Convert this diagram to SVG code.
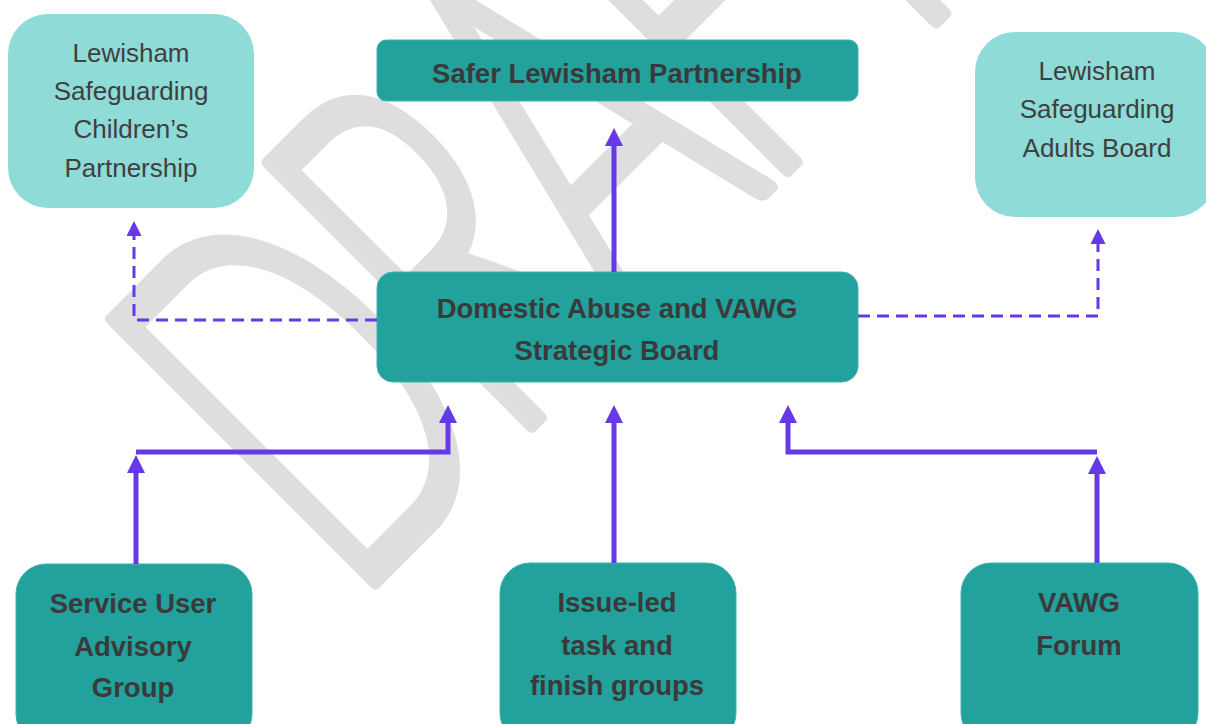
<svg xmlns="http://www.w3.org/2000/svg" width="1206" height="724" viewBox="0 0 1206 724">
<defs>
<style>
.bg{fill:#ffffff}
.wm{font-family:Lato,"Liberation Sans",Arial,sans-serif;font-size:525px;font-weight:300;fill:#dedede;stroke:#dedede;stroke-width:14;stroke-linejoin:round;letter-spacing:-30px}
.light{fill:#8edbd7}
.dark{fill:#22a19d;stroke:#3db3ae;stroke-width:1}
.lt{font-family:"Liberation Sans",Arial,sans-serif;font-size:26px;fill:#404040;text-anchor:middle}
.bt{font-family:"Liberation Sans",Arial,sans-serif;font-size:27.5px;font-weight:bold;fill:#3a3a3a;text-anchor:middle}
.solid{fill:none;stroke:#6639e6;stroke-width:5;stroke-linejoin:miter}
.dash{fill:none;stroke:#6639e6;stroke-width:3;stroke-dasharray:12 7}
</style>
<marker id="ah" markerUnits="userSpaceOnUse" viewBox="0 0 18 18" markerWidth="18" markerHeight="18" refX="0" refY="9" orient="auto">
<path d="M0,0 L18,9 L0,18 z" fill="#6639e6"/>
</marker>
<marker id="ahs" markerUnits="userSpaceOnUse" viewBox="0 0 15 15" markerWidth="15" markerHeight="15" refX="0" refY="7.5" orient="auto">
<path d="M0,0 L15,7.5 L0,15 z" fill="#6639e6"/>
</marker>
</defs>
<rect class="bg" x="0" y="0" width="1206" height="724"/>
<g id="watermark">
<text class="wm" transform="translate(350,607) rotate(-45) scale(0.6,1)">DRAFT</text>
</g>
<g id="lscp">
<rect class="light" x="8" y="14" width="246" height="194" rx="40"/>
<text class="lt" x="131" y="62">Lewisham</text>
<text class="lt" x="131" y="100">Safeguarding</text>
<text class="lt" x="131" y="138">Children’s</text>
<text class="lt" x="131" y="177">Partnership</text>
</g>
<g id="slp">
<rect class="dark" x="377" y="40" width="481" height="61" rx="9"/>
<text class="bt" x="617" y="83">Safer Lewisham Partnership</text>
</g>
<g id="lsab">
<rect class="light" x="975" y="32" width="240" height="185" rx="40"/>
<text class="lt" x="1097" y="80">Lewisham</text>
<text class="lt" x="1097" y="118">Safeguarding</text>
<text class="lt" x="1097" y="157">Adults Board</text>
</g>
<g id="davawg">
<rect class="dark" x="377" y="272" width="481" height="110" rx="16"/>
<text class="bt" x="617" y="318">Domestic Abuse and VAWG</text>
<text class="bt" x="617" y="360">Strategic Board</text>
</g>
<g id="suag">
<rect class="dark" x="16" y="564" width="236" height="180" rx="30"/>
<text class="bt" x="133" y="613">Service User</text>
<text class="bt" x="133" y="656">Advisory</text>
<text class="bt" x="133" y="697">Group</text>
</g>
<g id="issue">
<rect class="dark" x="500" y="563" width="236" height="180" rx="30"/>
<text class="bt" x="617" y="612">Issue-led</text>
<text class="bt" x="617" y="655">task and</text>
<text class="bt" x="617" y="695">finish groups</text>
</g>
<g id="forum">
<rect class="dark" x="961" y="563" width="237" height="180" rx="30"/>
<text class="bt" x="1079" y="612">VAWG</text>
<text class="bt" x="1079" y="655">Forum</text>
</g>
<g id="connectors">
<path class="solid" d="M614,272 V146" marker-end="url(#ah)"/>
<path class="solid" d="M136,564 V473" marker-end="url(#ah)"/>
<path class="solid" d="M136,452 H448 V423" marker-end="url(#ah)"/>
<path class="solid" d="M614,563 V423" marker-end="url(#ah)"/>
<path class="solid" d="M1097,563 V474" marker-end="url(#ah)"/>
<path class="solid" d="M1097,452 H788 V423" marker-end="url(#ah)"/>
<path class="dash" d="M377,320 H134 V236" marker-end="url(#ahs)"/>
<path class="dash" d="M858,316 H1098 V244" marker-end="url(#ahs)"/>
</g>
</svg>
